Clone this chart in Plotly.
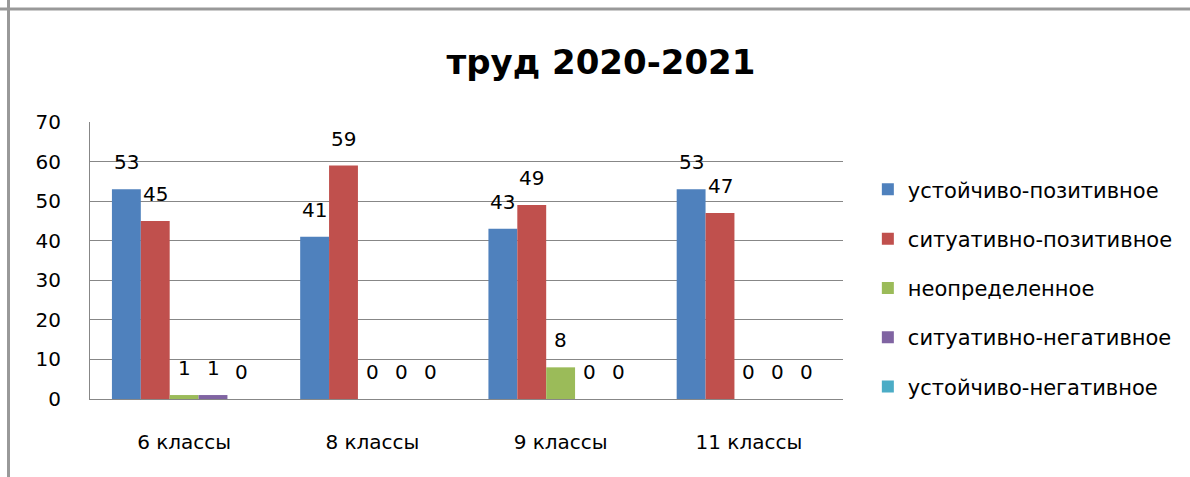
import plotly.graph_objects as go

categories = ["6 классы", "8 классы", "9 классы", "11 классы"]
series_names = ["устойчиво-позитивное", "ситуативно-позитивное", "неопределенное",
                "ситуативно-негативное", "устойчиво-негативное"]
ust_poz = [53, 41, 43, 53]
sit_poz = [45, 59, 49, 47]
neopr = [1, 0, 8, 0]
sit_neg = [1, 0, 0, 0]
ust_neg = [0, 0, 0, 0]
series_values = [ust_poz, sit_poz, neopr, sit_neg, ust_neg]
colors = ["#4F81BD", "#C0504D", "#9BBB59", "#8064A2", "#4BACC6"]
y_ticks = [0, 10, 20, 30, 40, 50, 60, 70]
title_text = "труд 2020-2021"

W, H = 1190, 477
L, R, T, B = 90, 347, 122, 78
BARGAP = 0.233
FONT = "DejaVu Sans"

fig = go.Figure()
for i, (name, vals) in enumerate(zip(series_names, series_values)):
    fig.add_trace(go.Bar(
        x=categories, y=vals, name=name, legendgroup=name,
        marker=dict(color=colors[i], line=dict(width=0)),
    ))

# data labels above bars
plot_w = W - L - R
cat_w = plot_w / len(categories)
bar_w = cat_w * (1 - BARGAP) / len(series_names)
annotations = []
for i, vals in enumerate(series_values):
    for c, v in zip(categories, vals):
        annotations.append(dict(
            x=c, y=v, xref="x", yref="y", text=str(v), showarrow=False,
            xshift=(i - (len(series_names) - 1) / 2) * bar_w, yshift=27,
            yanchor="middle", xanchor="center",
            font=dict(family=FONT, size=20, color="#000000"),
        ))

fig.update_layout(
    width=W, height=H,
    margin=dict(l=L, r=R, t=T, b=B, pad=0),
    paper_bgcolor="white", plot_bgcolor="white",
    barmode="group", bargap=BARGAP, bargroupgap=0,
    title=dict(text=title_text, x=0.505, xanchor="center", y=1 - 62 / H, yanchor="middle",
               font=dict(family=FONT, size=34, color="#000000", weight="bold")),
    showlegend=True,
    legend=dict(x=1.033, xanchor="left", y=0.4, yanchor="middle",
                font=dict(family=FONT, size=21, color="#000000"),
                tracegroupgap=19, bgcolor="rgba(0,0,0,0)", traceorder="grouped"),
    annotations=annotations,
    xaxis=dict(showgrid=False, showline=True, linecolor="#878787", linewidth=1,
               ticks="", ticklabelstandoff=25,
               tickfont=dict(family=FONT, size=20, color="#000000")),
    yaxis=dict(range=[0, 70], tickvals=y_ticks, showgrid=True, gridcolor="#878787",
               gridwidth=1, showline=True, linecolor="#878787", linewidth=1,
               zeroline=False, ticks="", ticklabelstandoff=24,
               tickfont=dict(family=FONT, size=20, color="#000000")),
    shapes=[
        dict(type="line", xref="paper", yref="paper", x0=-L / plot_w, x1=1 + R / plot_w,
             y0=1 + (T - 9) / (H - T - B), y1=1 + (T - 9) / (H - T - B),
             line=dict(color="#999999", width=3)),
        dict(type="line", xref="paper", yref="paper",
             x0=-(L - 8.5) / plot_w, x1=-(L - 8.5) / plot_w,
             y0=-B / (H - T - B), y1=1 + T / (H - T - B),
             line=dict(color="#999999", width=3)),
    ],
)
fig.write_html("out.html", config={"displayModeBar": False},
               post_script="document.body.style.margin='0';document.body.style.padding='0';")
